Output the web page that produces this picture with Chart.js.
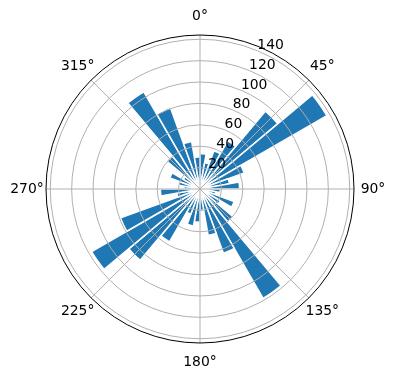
<!DOCTYPE html>
<html><head><meta charset="utf-8">
<script src="https://cdn.jsdelivr.net/npm/chart.js@4/dist/chart.umd.min.js"></script>
<style>html,body{margin:0;padding:0;background:#fff;}canvas{display:block}</style>
</head><body>
<canvas id="c" width="396" height="380"></canvas>
<script>
// bin centres (degrees, clockwise from north) and counts
const binCenters = [5,15,25,35,45,55,65,75,85,95,105,115,125,135,145,155,165,175,
                    185,195,205,215,225,235,245,255,265,275,285,295,305,315,325,335,345,355];
const counts = [33,25,38,52,95,137,44,28,37,19,15,34,22,40,118,64,44,20,
                31,35,25,57,87,117,79,22,37,15,20,30,18,40,105,81,45,30];
const radialTicks = [20,40,60,80,100,120,140];
const angleTicks = [0,45,90,135,180,225,270,315];
const angleTickLabels = ['0°','45°','90°','135°','180°','225°','270°','315°'];
const rMax = 144;
const rLabelAngle = 22.5;

const polarDecor = {
  id: 'polarDecor',
  afterDatasetsDraw(chart) {
    const s = chart.scales.r, ctx = chart.ctx;
    const cx = s.xCenter, cy = s.yCenter;
    const R = s.getDistanceFromCenterForValue(rMax);
    const rad = a => (a - 90) * Math.PI / 180;
    ctx.save();
    ctx.strokeStyle = '#b0b0b0'; ctx.lineWidth = 1;
    radialTicks.forEach(v => {
      const r = s.getDistanceFromCenterForValue(v);
      ctx.beginPath(); ctx.arc(cx, cy, r, 0, 2 * Math.PI); ctx.stroke();
    });
    angleTicks.forEach(a => {
      const t = rad(a);
      ctx.beginPath(); ctx.moveTo(cx, cy);
      ctx.lineTo(cx + R * Math.cos(t), cy + R * Math.sin(t)); ctx.stroke();
    });
    ctx.strokeStyle = '#000'; ctx.lineWidth = 1;
    ctx.beginPath(); ctx.arc(cx, cy, R, 0, 2 * Math.PI); ctx.stroke();
    ctx.fillStyle = '#000';
    ctx.font = '13.9px "DejaVu Sans"';
    ctx.textAlign = 'center'; ctx.textBaseline = 'middle';
    angleTicks.forEach((a, i) => {
      const t = rad(a), rr = R + 19;
      ctx.fillText(angleTickLabels[i], cx + rr * Math.cos(t), cy + rr * Math.sin(t));
    });
    ctx.textAlign = 'left'; ctx.textBaseline = 'alphabetic';
    radialTicks.forEach(v => {
      const r = s.getDistanceFromCenterForValue(v), t = rad(rLabelAngle);
      ctx.fillText(String(v), cx + r * Math.cos(t), cy + r * Math.sin(t) - 1.5);
    });
    ctx.restore();
  }
};

new Chart(document.getElementById('c'), {
  type: 'polarArea',
  data: {
    labels: binCenters.map(d => d + '°'),
    datasets: [{ data: counts, backgroundColor: '#1f77b4', borderColor: '#ffffff', borderWidth: 1.5 }]
  },
  options: {
    responsive: false, animation: false,
    layout: { padding: { left: 46, right: 42, top: 35, bottom: 37 } },
    plugins: { legend: { display: false }, tooltip: { enabled: false } },
    scales: { r: { min: 0, max: rMax, startAngle: 0,
      ticks: { display: false, stepSize: 20 },
      grid: { display: false }, angleLines: { display: false }, pointLabels: { display: false } } }
  },
  plugins: [polarDecor]
});
</script>
</body></html>
